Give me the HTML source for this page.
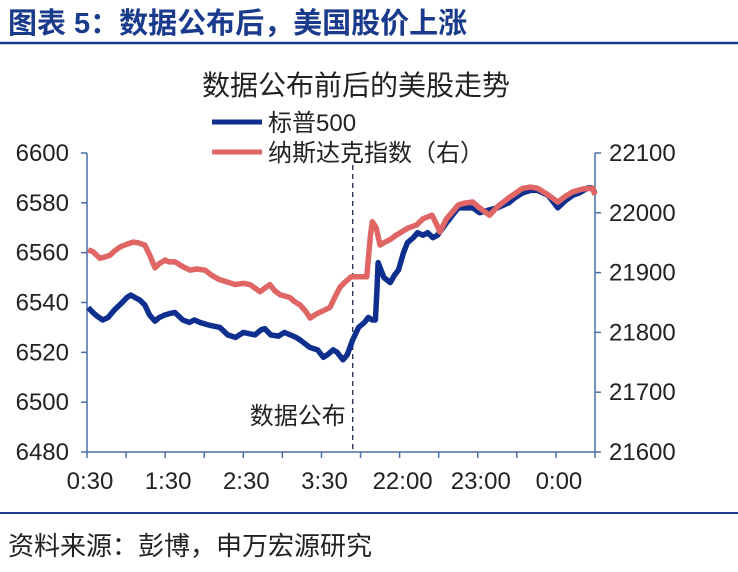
<!DOCTYPE html>
<html><head><meta charset="utf-8"><style>
body{margin:0;background:#fff;width:738px;height:567px;overflow:hidden;font-family:"Liberation Sans","Noto Sans CJK SC",sans-serif;}
</style></head><body>
<svg width="738" height="567" style="font-family:'Liberation Sans','Noto Sans CJK SC',sans-serif">
<text x="8" y="33" font-size="29" font-weight="bold" fill="#1a3a8c">图表 5：数据公布后，美国股价上涨</text>
<line x1="0" y1="43" x2="738" y2="43" stroke="#1a3a8c" stroke-width="2.5"/>
<text x="356" y="95" font-size="28" fill="#222" text-anchor="middle">数据公布前后的美股走势</text>
<line x1="212" y1="122" x2="262" y2="122" stroke="#0f2f8f" stroke-width="5"/>
<text x="268" y="131" font-size="24" fill="#222">标普500</text>
<line x1="212" y1="152" x2="262" y2="152" stroke="#e06666" stroke-width="5"/>
<text x="268" y="161" font-size="24" fill="#222">纳斯达克指数（右）</text>
<g id="axes"></g>
<g id="plot"></g>
<line x1="0" y1="513" x2="738" y2="513" stroke="#1a3a8c" stroke-width="2"/>
<text x="8" y="555" font-size="26" fill="#222">资料来源：彭博，申万宏源研究</text>
</svg>
<script>
const leftTicks=[6480,6500,6520,6540,6560,6580,6600];
const rightTicks=[21600,21700,21800,21900,22000,22100];
const xLabels=["0:30","1:30","2:30","3:30","22:00","23:00","0:00"];
const spT=[0.03,0.15,0.26,0.4,0.54,0.7,0.8,0.9,1.02,1.12,1.23,1.35,1.48,1.6,1.74,1.85,1.99,2.1,2.25,2.45,2.62,2.75,2.89,3.1,3.4,3.6,3.8,4.0,4.3,4.45,4.55,4.7,4.9,5.05,5.2,5.35,5.45,5.7,5.9,6.05,6.15,6.3,6.4,6.55,6.66,6.8,6.95,7.1,7.2,7.3,7.38,7.42,7.45,7.6,7.76,7.87,7.97,8.1,8.2,8.35,8.46,8.6,8.72,8.85,8.97,9.2,9.5,9.7,9.87,10.05,10.26,10.5,10.79,10.95,11.15,11.35,11.53,11.8,12.05,12.25,12.43,12.6,12.82,12.92,13.0];
const spV=[6538,6536,6534.5,6533,6534,6537,6538.5,6540,6542,6543,6542,6541,6539,6535,6532.5,6534,6535,6535.5,6536,6533,6532,6533,6532,6531,6530,6527,6526,6528,6527,6529,6529.5,6527,6526.5,6528,6527,6526,6525,6522,6521,6518,6519,6521,6520,6517,6519,6525,6530,6532,6534,6533,6533,6545,6556,6550,6548,6551,6553,6560,6564,6566,6568,6567,6568,6566,6567,6572,6578,6578,6578,6576,6577,6578,6580,6582,6584,6585,6585,6583,6578,6581,6583,6584,6586,6586,6584];
const ndT=[0.03,0.15,0.33,0.45,0.59,0.7,0.85,1.0,1.18,1.3,1.48,1.6,1.74,1.85,2.0,2.1,2.25,2.45,2.64,2.8,3.02,3.2,3.4,3.6,3.79,4.0,4.17,4.3,4.43,4.55,4.68,4.8,4.94,5.05,5.2,5.3,5.45,5.6,5.71,5.85,5.97,6.1,6.22,6.35,6.48,6.6,6.76,6.95,7.16,7.25,7.3,7.4,7.5,7.6,7.75,7.9,8.0,8.2,8.44,8.6,8.83,8.95,9.03,9.2,9.5,9.65,9.87,10.05,10.3,10.5,10.79,10.95,11.15,11.35,11.53,11.8,12.05,12.25,12.43,12.7,12.94,13.0];
const ndV=[21938,21935,21924,21926,21929,21936,21943,21947,21951,21950,21946,21930,21908,21915,21921,21918,21918,21910,21904,21906,21904,21895,21888,21884,21880,21882,21880,21874,21868,21874,21880,21870,21863,21861,21858,21852,21846,21835,21824,21830,21834,21838,21842,21860,21876,21884,21893,21893,21893,21960,21985,21975,21946,21950,21955,21962,21966,21974,21980,21990,21996,21980,21968,21990,22013,22016,22018,22008,21996,22010,22025,22032,22041,22043,22041,22030,22018,22028,22035,22040,22041,22030];
const X0=87,X1=595,YT=153,YB=452;
const xS=t=>X0+t*(X1-X0)/13;
const yL=v=>YB-(v-6480)/(6600-6480)*(YB-YT);
const yR=v=>YB-(v-21600)/(22100-21600)*(YB-YT);
const NS="http://www.w3.org/2000/svg";
const ax=document.getElementById('axes'),pl=document.getElementById('plot');
function mk(p,tag,at){const e=document.createElementNS(NS,tag);for(const k in at)e.setAttribute(k,at[k]);p.appendChild(e);return e;}
const axisColor="#4a6fa5";
let e=mk(ax,'line',{x1:X0,y1:YT,x2:X0,y2:YB,stroke:axisColor,'stroke-width':1.5});


e=mk(ax,'line',{x1:X1,y1:YT,x2:X1,y2:YB,stroke:axisColor,'stroke-width':1.5});


e=mk(ax,'line',{x1:X0,y1:YB,x2:X1,y2:YB,stroke:axisColor,'stroke-width':1.5});


leftTicks.forEach(v=>{const y=yL(v);
 mk(ax,'line',{x1:X0-6,y1:y,x2:X0,y2:y,stroke:axisColor,'stroke-width':1.5});
 const t=mk(ax,'text',{x:X0-18,y:y+8,'font-size':24,fill:'#222','text-anchor':'end'});t.textContent=v;
 
 });
rightTicks.forEach(v=>{const y=yR(v);
 mk(ax,'line',{x1:X1,y1:y,x2:X1+6,y2:y,stroke:axisColor,'stroke-width':1.5});
 const t=mk(ax,'text',{x:X1+14,y:y+8,'font-size':24,fill:'#222'});t.textContent=v;
 
 });
for(let i=0;i<=13;i++){const x=xS(i);mk(ax,'line',{x1:x,y1:YB,x2:x,y2:YB+6,stroke:axisColor,'stroke-width':1.5});}
xLabels.forEach((s,i)=>{const t=mk(ax,'text',{x:xS(i*2)+3,y:YB+37,'font-size':24,fill:'#222','text-anchor':'middle'});t.textContent=s;
 
 });
const dx=xS(6.8);
e=mk(pl,'line',{x1:dx,y1:YT+12,x2:dx,y2:YB,stroke:'#1a2a4a','stroke-width':1.3,'stroke-dasharray':'5,4'});


e=mk(pl,'text',{x:dx-7,y:424,'font-size':24,fill:'#222','text-anchor':'end'});e.textContent='数据公布';


e=mk(pl,'polyline',{points:spT.map((t,i)=>xS(t)+','+yL(spV[i])).join(' '),fill:'none',stroke:'#0f2f8f','stroke-width':5.5,'stroke-linejoin':'round'});


e=mk(pl,'polyline',{points:ndT.map((t,i)=>xS(t)+','+yR(ndV[i])).join(' '),fill:'none',stroke:'#e06666','stroke-width':5.5,'stroke-linejoin':'round'});


</script>
</body></html>
